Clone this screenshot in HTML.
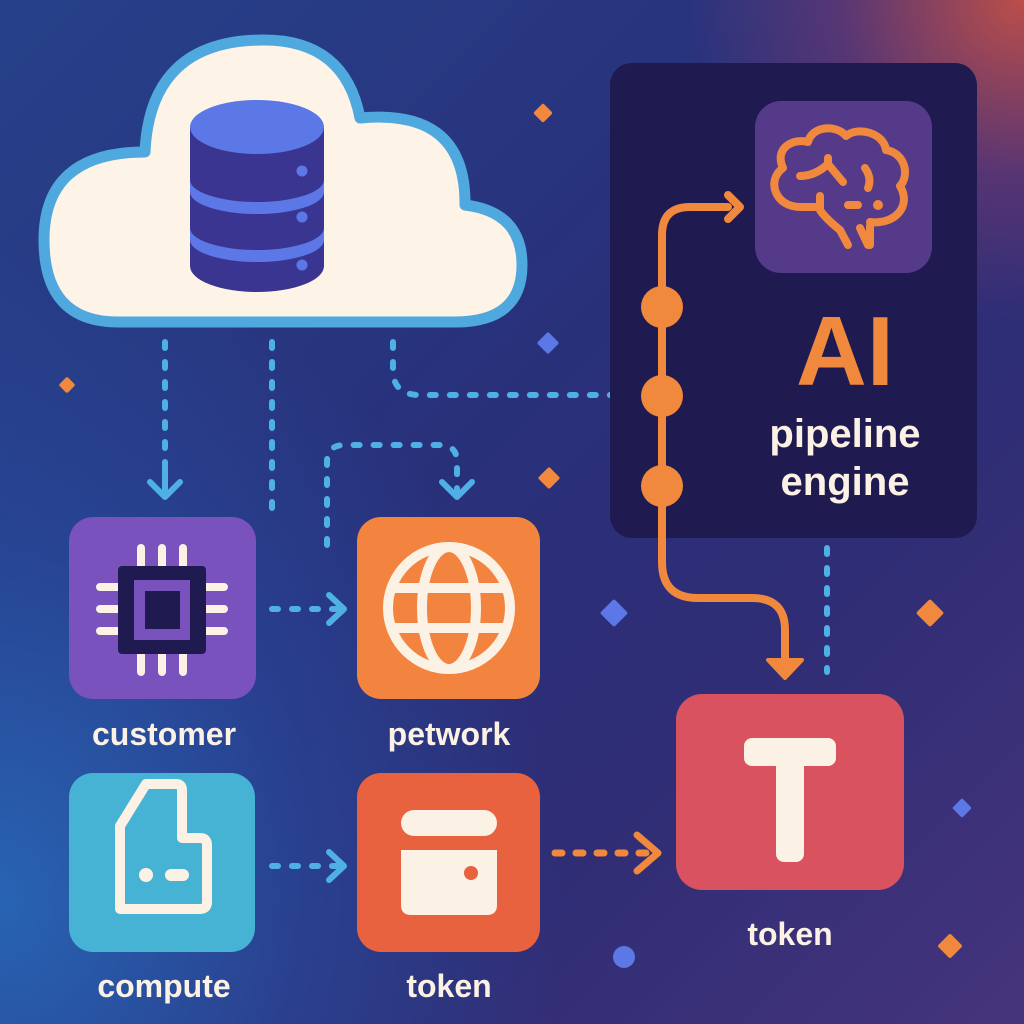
<!DOCTYPE html>
<html><head><meta charset="utf-8"><style>
html,body{margin:0;padding:0}
body{width:1024px;height:1024px;overflow:hidden;position:relative;font-family:"Liberation Sans",sans-serif;
background:
radial-gradient(ellipse 340px 320px at 1024px 0px, rgba(195,80,70,0.95), rgba(140,60,110,0.45) 55%, rgba(0,0,0,0) 100%),
radial-gradient(ellipse 560px 650px at 0px 900px, rgba(40,105,185,0.9), rgba(38,85,170,0.45) 55%, rgba(0,0,0,0) 100%),
linear-gradient(135deg,#26418a 0%,#29307a 45%,#2f2d75 70%,#45347c 100%);}
svg{position:absolute;left:0;top:0}
.lbl{font-weight:bold;fill:#fbf1e4;font-size:32px;text-anchor:middle}
</style></head><body>
<svg width="1024" height="1024" viewBox="0 0 1024 1024">
<path d="M118,322 Q44,322 44,240 Q44,152 145,152 Q150,40 264,40 Q345,40 360,118 Q466,108 465,205 Q522,212 522,265 Q522,322 455,322 Z" fill="#fdf3e6" stroke="#4fa8de" stroke-width="11" stroke-linejoin="round"/>
<path d="M190,128 V266 A67,26 0 0 0 324,266 V128 Z" fill="#3b3592"/>
<path d="M190,180 A67,22 0 0 0 324,180 V192 A67,22 0 0 1 190,192 Z" fill="#5b78e6"/>
<path d="M190,228 A67,22 0 0 0 324,228 V240 A67,22 0 0 1 190,240 Z" fill="#5b78e6"/>
<ellipse cx="257" cy="127" rx="67" ry="27" fill="#5b78e6"/>
<circle cx="302" cy="171" r="5.5" fill="#5b78e6"/><circle cx="302" cy="217" r="5.5" fill="#5b78e6"/><circle cx="302" cy="265" r="5.5" fill="#5b78e6"/>

<g fill="none" stroke="#4fb0e6" stroke-width="6" stroke-linecap="round" stroke-dasharray="6 14">
<path d="M165,342 V490"/>
<path d="M272,342 V515"/>
<path d="M393,342 V370 Q393,395 420,395 H636"/>
<path d="M327,545 V462 Q327,445 345,445 H440 Q457,445 457,462 V490"/>
<path d="M272,609 H340"/>
<path d="M272,866 H340"/>
<path d="M827,548 V672"/>
</g>
<g fill="none" stroke="#4fb0e6" stroke-width="6" stroke-linecap="round" stroke-linejoin="round">
<path d="M150,482 L165,497 L180,482 M165,470 V497"/>
<path d="M442,482 L457,497 L472,482"/>
<path d="M329,595 L344,609 L329,623"/>
<path d="M329,852 L344,866 L329,880"/>
</g>
<g fill="none" stroke="#f0883e" stroke-width="7" stroke-linecap="round" stroke-linejoin="round">
<path d="M555,853 H650" stroke-dasharray="7 14"/>
<path d="M637,835 L658,853 L637,871"/>
</g>

<rect x="610" y="63" width="367" height="475" rx="22" fill="#1f1a4f"/>
<rect x="755" y="101" width="177" height="172" rx="26" fill="#553a8a"/>
<g fill="none" stroke="#f0883e" stroke-width="8" stroke-linecap="round" stroke-linejoin="round">
<path d="M818,207 H800 C775,207 766,180 783,168 C774,148 793,138 808,142 C812,126 836,124 846,136 C858,126 884,133 886,150 C905,153 910,175 900,186 C912,206 895,225 870,222 M860,228 L868,245 M870,226 V245"/>
<path d="M800,176 Q815,176 828,164 Q838,176 843,182 M828,164 V158"/>
<path d="M865,168 Q872,178 868,188"/>
<path d="M820,196 V210 Q825,218 840,230 L848,245"/>
<path d="M848,205 H858"/>
</g>
<circle cx="878" cy="205" r="5" fill="#f0883e"/>
<text x="845" y="385" font-size="98" font-weight="bold" fill="#f0883e" text-anchor="middle">AI</text>
<text x="845" y="447" font-size="40" font-weight="bold" fill="#fbf1e4" text-anchor="middle">pipeline</text>
<text x="845" y="495" font-size="40" font-weight="bold" fill="#fbf1e4" text-anchor="middle">engine</text>
<g fill="none" stroke="#f0883e" stroke-width="8" stroke-linecap="round" stroke-linejoin="round">
<path d="M728,207 H690 Q662,207 662,235 V562 Q662,598 698,598 H752 Q785,598 785,630 V662"/>
<path d="M728,195 L740,207 L728,219"/>
</g>
<path d="M768,660 L802,660 L785,678 Z" fill="#f0883e" stroke="#f0883e" stroke-width="4" stroke-linejoin="round"/>
<circle cx="662" cy="307" r="21" fill="#f0883e"/><circle cx="662" cy="396" r="21" fill="#f0883e"/><circle cx="662" cy="486" r="21" fill="#f0883e"/>

<rect x="69" y="517" width="187" height="182" rx="24" fill="#7a52bd"/>
<g stroke="#fbf1e4" stroke-width="8" stroke-linecap="round">
<path d="M141,548 V570 M162,548 V570 M183,548 V570 M141,650 V672 M162,650 V672 M183,650 V672"/>
<path d="M100,587 H120 M100,609 H120 M100,631 H120 M206,587 H224 M206,609 H224 M206,631 H224"/>
</g>
<rect x="118" y="566" width="88" height="88" rx="4" fill="#1f1a4f"/>
<rect x="134" y="580" width="56" height="60" fill="#7a52bd"/>
<rect x="145" y="591" width="35" height="38" fill="#1f1a4f"/>
<text class="lbl" x="164" y="745">customer</text>

<rect x="357" y="517" width="183" height="182" rx="24" fill="#f3843f"/>
<g fill="none" stroke="#fbf1e4" stroke-width="10">
<circle cx="449" cy="608" r="61"/>
<ellipse cx="449" cy="608" rx="27" ry="61"/>
<path d="M392,588 H506 M392,628 H506"/>
</g>
<text class="lbl" x="449" y="745">petwork</text>

<rect x="69" y="773" width="186" height="179" rx="24" fill="#47b3d4"/>
<path d="M120,909 V826 L146,784 H176 Q182,784 182,790 V838 H200 Q207,838 207,845 V902 Q207,909 200,909 Z" fill="none" stroke="#fbf1e4" stroke-width="10" stroke-linejoin="round"/>
<circle cx="146" cy="875" r="7" fill="#fbf1e4"/>
<path d="M171,875 H183" stroke="#fbf1e4" stroke-width="12" stroke-linecap="round"/>
<text class="lbl" x="164" y="997">compute</text>

<rect x="357" y="773" width="183" height="179" rx="24" fill="#e9623f"/>
<rect x="401" y="810" width="96" height="26" rx="13" fill="#fbf1e4"/>
<path d="M401,850 H497 V905 Q497,915 487,915 H411 Q401,915 401,905 Z" fill="#fbf1e4"/>
<circle cx="471" cy="873" r="7" fill="#e9623f"/>
<text class="lbl" x="449" y="997">token</text>

<rect x="676" y="694" width="228" height="196" rx="26" fill="#d95260"/>
<rect x="744" y="738" width="92" height="28" rx="8" fill="#fbf1e4"/>
<rect x="776" y="750" width="28" height="112" rx="8" fill="#fbf1e4"/>
<text class="lbl" x="790" y="945" font-size="36">token</text>

<g>
<rect x="-7" y="-7" width="14" height="14" rx="2" fill="#f0883e" transform="translate(543,113) rotate(45)"/>
<rect x="-8" y="-8" width="16" height="16" rx="2" fill="#5b78e6" transform="translate(548,343) rotate(45)"/>
<rect x="-6" y="-6" width="12" height="12" rx="2" fill="#f0883e" transform="translate(67,385) rotate(45)"/>
<rect x="-8" y="-8" width="16" height="16" rx="2" fill="#f0883e" transform="translate(549,478) rotate(45)"/>
<rect x="-10" y="-10" width="20" height="20" rx="2" fill="#5b78e6" transform="translate(614,613) rotate(45)"/>
<rect x="-10" y="-10" width="20" height="20" rx="2" fill="#f0883e" transform="translate(930,613) rotate(45)"/>
<rect x="-7" y="-7" width="14" height="14" rx="2" fill="#5b78e6" transform="translate(962,808) rotate(45)"/>
<rect x="-9" y="-9" width="18" height="18" rx="2" fill="#f0883e" transform="translate(950,946) rotate(45)"/>
<circle cx="624" cy="957" r="11" fill="#5b78e6"/>
</g>
</svg>
</body></html>
